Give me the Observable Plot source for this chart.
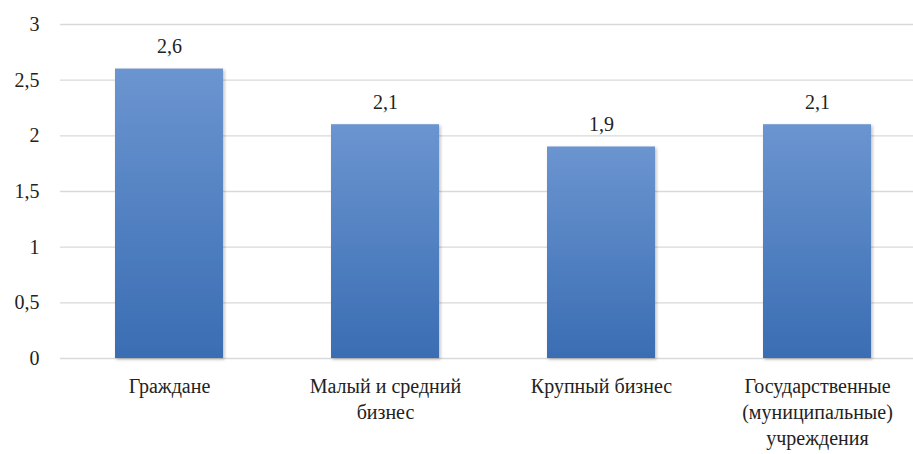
<!DOCTYPE html>
<html><head><meta charset="utf-8">
<script src="https://cdn.jsdelivr.net/npm/d3@7"></script>
<script src="https://cdn.jsdelivr.net/npm/@observablehq/plot@0.6"></script>
<style>body{margin:0;background:#fff;} svg{overflow:visible}</style>
</head><body><div id="chart"></div>
<script>
const categories = ["Граждане", "Малый и средний\nбизнес", "Крупный бизнес", "Государственные\n(муниципальные)\nучреждения"];
const values = [2.6, 2.1, 1.9, 2.1];
const yTicks = [0, 0.5, 1, 1.5, 2, 2.5, 3];

const data = categories.map((c, i) => ({cat: c, v: values[i]}));
const fmt = d => String(d).replace(".", ",");
const FF = "'Liberation Serif', 'DejaVu Serif', 'Noto Serif', 'Times New Roman', Times, serif";

const plot = Plot.plot({
  width: 913, height: 454,
  marginTop: 24, marginBottom: 96, marginLeft: 60, marginRight: 0,
  style: {fontSize: "19px", color: "#222", background: "#fff"},
  x: {domain: categories, range: [60, 926], paddingInner: 0.5, paddingOuter: 0.25, label: null},
  y: {domain: [0, 3], label: null},
  marks: [
    Plot.ruleY(yTicks, {stroke: "#d9d9d9", strokeWidth: 1.3}),
    Plot.barY(data, {x: "cat", y: "v", fill: "url(#bargrad)"}),
    Plot.text(data, {x: "cat", y: "v", text: d => fmt(d.v), dy: -22, fontSize: 20, fontFamily: FF, fill: "#222"}),
    Plot.axisY({ticks: yTicks, tickFormat: fmt, tickSize: 0, tickPadding: 21, fontSize: 20, fontFamily: FF, label: null}),
    Plot.axisX({tickSize: 0, tickPadding: 16, fontSize: 20, fontFamily: FF, label: null, lineHeight: 1.3})
  ]
});
const svg = d3.select(plot);
const defs = svg.insert("defs", ":first-child");
const g = defs.append("linearGradient").attr("id", "bargrad").attr("x1", 0).attr("y1", 0).attr("x2", 0).attr("y2", 1);
g.append("stop").attr("offset", "0%").attr("stop-color", "#6b95d0");
g.append("stop").attr("offset", "100%").attr("stop-color", "#3a6db3");
const f = defs.append("filter").attr("id", "shadow").attr("x", "-10%").attr("y", "-10%").attr("width", "130%").attr("height", "130%");
f.append("feDropShadow").attr("dx", 1.5).attr("dy", 1.5).attr("stdDeviation", 1.5).attr("flood-color", "#000").attr("flood-opacity", 0.25);
svg.selectAll("rect").each(function(){
  const p = this.parentNode;
  if (this.getAttribute("fill") === "url(#bargrad)" || (p && p.getAttribute && p.getAttribute("fill") === "url(#bargrad)")) this.setAttribute("filter", "url(#shadow)");
});
document.getElementById("chart").appendChild(plot);
</script></body></html>
